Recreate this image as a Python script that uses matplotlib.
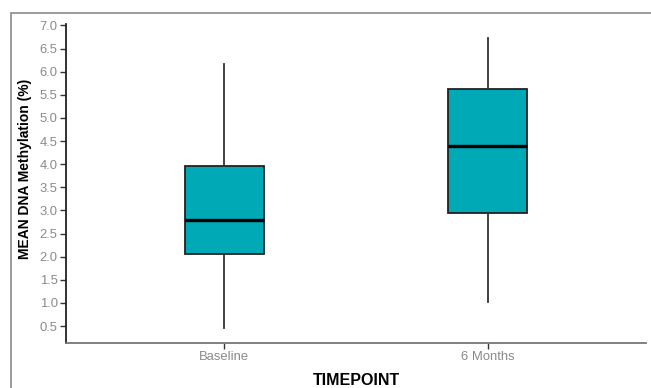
import matplotlib.pyplot as plt
from matplotlib.patches import Rectangle

# Summary statistics per timepoint (% methylation)
timepoints = ['Baseline', '6 Months']
whisker_low = [0.46, 1.03]
q1 = [2.06, 2.94]
medians = [2.79, 4.40]
q3 = [3.96, 5.63]
whisker_high = [6.16, 6.72]
y_ticks = [0.5, 1.0, 1.5, 2.0, 2.5, 3.0, 3.5, 4.0, 4.5, 5.0, 5.5, 6.0, 6.5, 7.0]

plt.rcParams['font.family'] = ['Liberation Sans', 'DejaVu Sans']

fig = plt.figure(figsize=(6.51, 3.88), dpi=100)
ax = fig.add_axes([66 / 651, 1 - 342.7 / 388, 580 / 651, 318.7 / 388])

stats = []
for i, name in enumerate(timepoints):
    stats.append({
        'label': name,
        'whislo': whisker_low[i],
        'q1': q1[i],
        'med': medians[i],
        'q3': q3[i],
        'whishi': whisker_high[i],
        'fliers': [],
    })

ax.bxp(stats, positions=[1, 2], widths=0.3, patch_artist=True,
       showcaps=False, showfliers=False,
       boxprops=dict(facecolor='#00A9B6', edgecolor='#222222', linewidth=1.3),
       medianprops=dict(color='black', linewidth=2.4),
       whiskerprops=dict(color='#333333', linewidth=1.3))

ax.set_xlim(0.4, 2.6)
ax.set_ylim(0.14, 7.03)
ax.set_yticks(y_ticks)
ax.set_yticklabels([f'{v:.1f}' for v in y_ticks])
ax.set_xticks([1, 2])
ax.set_xticklabels(timepoints)

ax.tick_params(axis='both', labelsize=9.4, labelcolor='#8a8a8a', color='#333333',
               length=4, width=1, pad=2)
ax.spines['top'].set_visible(False)
ax.spines['right'].set_visible(False)
ax.spines['left'].set_color('#222222')
ax.spines['left'].set_linewidth(1.3)
ax.spines['bottom'].set_color('#777777')
ax.spines['bottom'].set_linewidth(1.3)

ax.set_xlabel('TIMEPOINT', fontsize=11.5, fontweight='bold', labelpad=7)
ax.set_ylabel('MEAN DNA Methylation (%)', fontsize=10, fontweight='bold')
ax.yaxis.set_label_coords(-0.058, 0.545)

# grey frame around the figure
fig.patches.append(Rectangle((11 / 651, -0.1), 1.2, 1.1 - 13 / 388,
                             transform=fig.transFigure, fill=False,
                             edgecolor='#8a8a8a', linewidth=1.2))

fig.savefig('out.png', dpi=100)
